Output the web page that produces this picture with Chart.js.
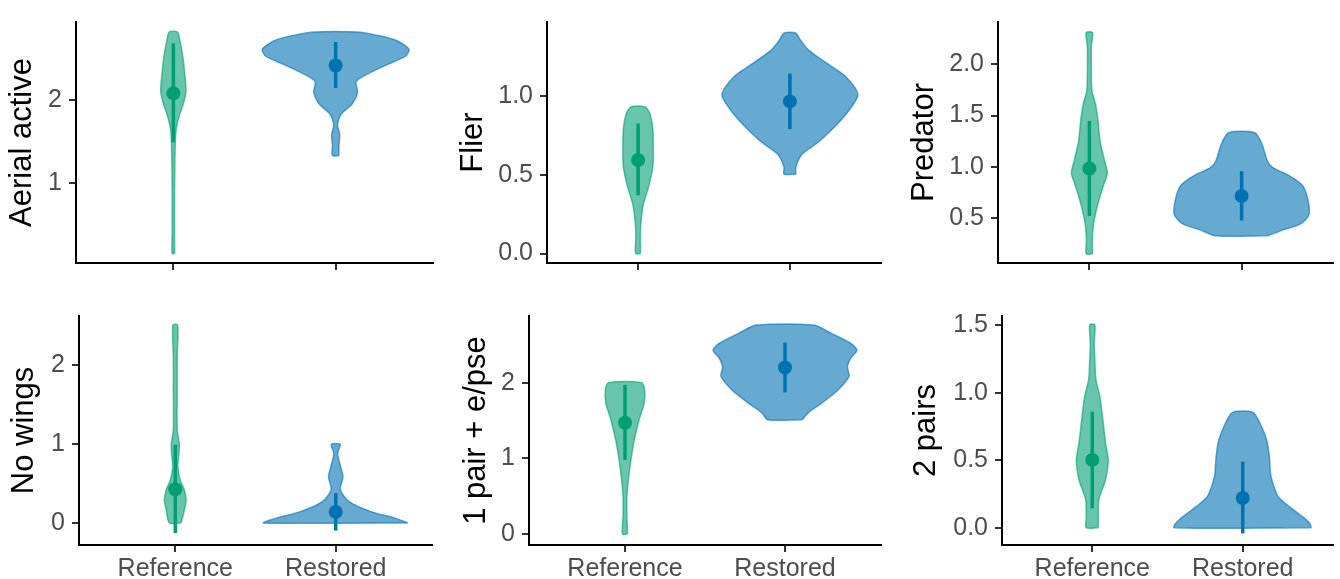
<!DOCTYPE html>
<html>
<head>
<meta charset="utf-8">
<script src="https://cdn.jsdelivr.net/npm/chart.js@4/dist/chart.umd.min.js"></script>
<style>
  html, body { margin: 0; padding: 0; background: #fff; }
  body { width: 1340px; height: 579px; position: relative; overflow: hidden; }
  canvas { position: absolute; }
</style>
</head>
<body>
<canvas id="p0"></canvas>
<canvas id="p1"></canvas>
<canvas id="p2"></canvas>
<canvas id="p3"></canvas>
<canvas id="p4"></canvas>
<canvas id="p5"></canvas>
<script>
const groups = ['Reference', 'Restored'];
const traits = ['Aerial active', 'Flier', 'Predator', 'No wings', '1 pair + e/pse', '2 pairs'];

// y axis limits and tick labels per panel
const yMin = [0.045, -0.06, 0.067, -0.28, -0.145, -0.128];
const yMax = [2.93, 1.47, 2.41, 2.62, 2.88, 1.57];
const yTickLabels = [
  ['1', '2'],
  ['0.0', '0.5', '1.0'],
  ['0.5', '1.0', '1.5', '2.0'],
  ['0', '1', '2'],
  ['0', '1', '2'],
  ['0.0', '0.5', '1.0', '1.5'],
];

// point estimate and interval, [Reference, Restored]
const means = [[2.076, 2.41], [0.594, 0.966], [0.986, 0.718], [0.426, 0.139], [1.47, 2.2], [0.503, 0.22]];
const lower = [[1.49, 2.14], [0.37, 0.79], [0.525, 0.48], [-0.13, -0.097], [0.98, 1.87], [0.144, -0.042]];
const upper = [[2.675, 2.69], [0.825, 1.143], [1.447, 0.96], [0.99, 0.376], [1.97, 2.53], [0.86, 0.49]];

// violin outlines: [value, half width in category units], bottom to top
const aerialRef = [[0.16, 0.008], [0.44, 0.007], [0.82, 0.007], [1.2, 0.009], [1.5, 0.012], [1.65, 0.018], [1.8, 0.035], [1.955, 0.062], [2.1, 0.078], [2.33, 0.069], [2.52, 0.058], [2.71, 0.04], [2.81, 0.025]];
const aerialRes = [[1.33, 0.02], [1.45, 0.02], [1.58, 0.025], [1.69, 0.012], [1.77, 0.02], [1.84, 0.04], [1.955, 0.104], [2.087, 0.135], [2.22, 0.127], [2.33, 0.22], [2.43, 0.33], [2.52, 0.43], [2.6, 0.453], [2.66, 0.42], [2.72, 0.36], [2.77, 0.26], [2.81, 0.132]];
const flierRef = [[0.0, 0.016], [0.108, 0.015], [0.19, 0.018], [0.31, 0.034], [0.43, 0.071], [0.55, 0.097], [0.65, 0.1], [0.79, 0.097], [0.89, 0.077], [0.932, 0.045]];
const flierRes = [[0.504, 0.039], [0.55, 0.039], [0.63, 0.08], [0.71, 0.19], [0.81, 0.3], [0.91, 0.39], [1.0, 0.447], [1.05, 0.43], [1.13, 0.36], [1.21, 0.24], [1.29, 0.125], [1.353, 0.071], [1.4, 0.037]];
const predRef = [[0.157, 0.021], [0.295, 0.019], [0.45, 0.028], [0.63, 0.054], [0.82, 0.092], [0.94, 0.118], [1.06, 0.1], [1.25, 0.071], [1.46, 0.056], [1.62, 0.039], [1.74, 0.017], [1.92, 0.013], [2.17, 0.013], [2.307, 0.021]];
const predRes = [[0.332, 0.172], [0.387, 0.27], [0.45, 0.39], [0.54, 0.443], [0.69, 0.434], [0.82, 0.4], [0.91, 0.32], [1.0, 0.2], [1.063, 0.168], [1.217, 0.135], [1.333, 0.086]];
const noWingsRef = [[0, 0.037], [0.16, 0.056], [0.29, 0.068], [0.42, 0.056], [0.54, 0.031], [0.71, 0.016], [0.88, 0.023], [1.0, 0.025], [1.18, 0.012], [1.68, 0.012], [2.1, 0.012], [2.506, 0.015]];
const noWingsRes = [[0, 0.45], [0.06, 0.37], [0.143, 0.22], [0.27, 0.083], [0.418, 0.029], [0.586, 0.045], [0.755, 0.025], [0.88, 0.012], [0.996, 0.028]];
const onePairRef = [[0, 0.016], [0.23, 0.012], [0.49, 0.012], [0.71, 0.021], [0.98, 0.037], [1.24, 0.058], [1.51, 0.088], [1.73, 0.12], [1.9, 0.123], [2.0, 0.103]];
const onePairRes = [[1.51, 0.108], [1.6, 0.144], [1.73, 0.23], [1.9, 0.33], [2.08, 0.4], [2.21, 0.39], [2.32, 0.41], [2.43, 0.45], [2.52, 0.41], [2.65, 0.29], [2.76, 0.18]];
const twoPairsRef = [[0, 0.04], [0.08, 0.04], [0.21, 0.044], [0.354, 0.088], [0.5, 0.106], [0.63, 0.088], [0.775, 0.073], [0.97, 0.051], [1.1, 0.024], [1.22, 0.018], [1.37, 0.013], [1.505, 0.017]];
const twoPairsRes = [[0, 0.456], [0.033, 0.445], [0.08, 0.4], [0.156, 0.31], [0.23, 0.236], [0.33, 0.2], [0.4, 0.185], [0.527, 0.177], [0.65, 0.159], [0.775, 0.115], [0.857, 0.066]];

const violins = [
  [aerialRef, aerialRes],
  [flierRef, flierRes],
  [predRef, predRes],
  [noWingsRef, noWingsRes],
  [onePairRef, onePairRes],
  [twoPairsRef, twoPairsRes],
];

const darkCol = ['#009E73', '#0072B2'];
const fillCol = ['rgba(0,158,115,0.6)', 'rgba(0,114,178,0.6)'];

// canvas placement for each panel
const frames = [
  { left: 0,   top: 0,   w: 440, h: 285, axisW: 76,  padR: 5, padT: 14, axisH: 17, titleX: 22 },
  { left: 440, top: 0,   w: 448, h: 285, axisW: 107, padR: 2, padT: 14, axisH: 17, titleX: 33 },
  { left: 888, top: 0,   w: 452, h: 285, axisW: 110, padR: 3, padT: 14, axisH: 17, titleX: 36 },
  { left: 0,   top: 290, w: 440, h: 289, axisW: 79,  padR: 8, padT: 26, axisH: 34, titleX: 24 },
  { left: 440, top: 290, w: 448, h: 289, axisW: 89,  padR: 5, padT: 26, axisH: 34, titleX: 36 },
  { left: 888, top: 290, w: 452, h: 289, axisW: 114, padR: 5, padT: 26, axisH: 34, titleX: 38 },
];

const fontFamily = '"Liberation Sans", Arial, sans-serif';

function violinPoints(shape, cx) {
  const right = shape.map(([y, w]) => ({ x: cx + w, y }));
  const left = shape.slice().reverse().map(([y, w]) => ({ x: cx - w, y }));
  return right.concat(left, [right[0]]);
}

function makePanel(i) {
  const f = frames[i];
  const canvas = document.getElementById('p' + i);
  canvas.width = f.w;
  canvas.height = f.h;
  canvas.style.left = f.left + 'px';
  canvas.style.top = f.top + 'px';
  const bottomRow = i >= 3;

  const datasets = [];
  groups.forEach((g, k) => {
    const cx = k + 1;
    datasets.push({
      data: violinPoints(violins[i][k], cx),
      fill: 'shape',
      backgroundColor: fillCol[k],
      borderColor: fillCol[k],
      borderWidth: 1.5,
      pointRadius: 0,
      tension: 0.25,
      order: 3,
    });
    datasets.push({
      data: [{ x: cx, y: lower[i][k] }, { x: cx, y: upper[i][k] }],
      borderColor: darkCol[k],
      borderWidth: 3.5,
      pointRadius: 0,
      fill: false,
      order: 2,
    });
    datasets.push({
      data: [{ x: cx, y: means[i][k] }],
      showLine: false,
      pointRadius: 7,
      pointBackgroundColor: darkCol[k],
      pointBorderWidth: 0,
      order: 1,
    });
  });

  const yLabels = yTickLabels[i];

  new Chart(canvas, {
    type: 'line',
    data: { datasets },
    options: {
      responsive: false,
      animation: false,
      devicePixelRatio: 1,
      layout: { padding: { top: f.padT, right: f.padR, left: 0, bottom: 0 } },
      plugins: { legend: { display: false }, tooltip: { enabled: false } },
      scales: {
        x: {
          type: 'linear',
          min: 0.4,
          max: 2.6,
          afterBuildTicks: s => { s.ticks = groups.map((g, k) => ({ value: k + 1 })); },
          afterFit: s => { s.height = f.axisH; },
          grid: { display: true, drawOnChartArea: false, drawTicks: true, tickLength: 7, color: '#333333', lineWidth: 2 },
          border: { display: true, color: '#000000', width: 2 },
          ticks: {
            display: bottomRow,
            autoSkip: false,
            maxRotation: 0,
            padding: 2,
            color: '#4D4D4D',
            font: { family: fontFamily, size: 25 },
            callback: (v, idx) => groups[idx],
          },
        },
        y: {
          type: 'linear',
          min: yMin[i],
          max: yMax[i],
          afterBuildTicks: s => { s.ticks = yLabels.map(t => ({ value: parseFloat(t) })); },
          afterFit: s => { s.width = f.axisW; },
          grid: { display: true, drawOnChartArea: false, drawTicks: true, tickLength: 7, color: '#333333', lineWidth: 2 },
          border: { display: true, color: '#000000', width: 2 },
          ticks: {
            autoSkip: false,
            padding: 7,
            color: '#4D4D4D',
            font: { family: fontFamily, size: 25 },
            callback: (v, idx) => yLabels[idx],
          },
          title: {
            display: true,
            text: traits[i],
            color: '#000000',
            font: { family: fontFamily, size: 31, lineHeight: 1 },
            padding: { top: f.titleX - 15.5, bottom: 0 },
          },
        },
      },
    },
  });
}

traits.forEach((t, i) => makePanel(i));
</script>
</body>
</html>
